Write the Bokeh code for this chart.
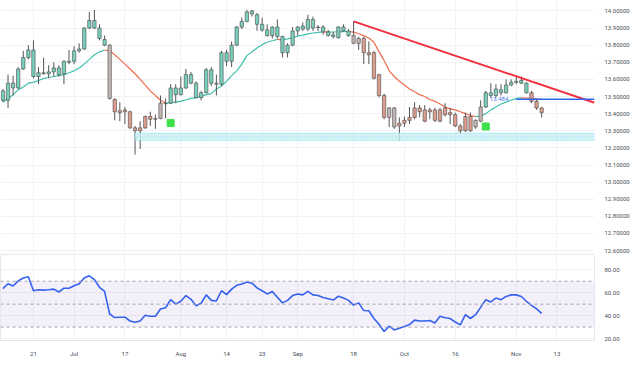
import pandas as pd
from bokeh.plotting import figure
from bokeh.layouts import column
from bokeh.models import (ColumnDataSource, Range1d, FixedTicker, Grid, Span,
                          BoxAnnotation, PrintfTickFormatter)
from bokeh.embed import file_html
from bokeh.resources import INLINE
from bokeh.core.properties import value

# ---------------- data ----------------
start_date = "2023-06-13"

opens = [13.478, 13.478, 13.578, 13.550, 13.661, 13.728, 13.772, 13.617, 13.639, 13.633,
         13.644, 13.667, 13.633, 13.706, 13.706, 13.767, 13.778, 13.900, 13.944, 13.900,
         13.833, 13.800, 13.483, 13.417, 13.411, 13.411, 13.317, 13.300, 13.317, 13.383,
         13.367, 13.372, 13.461, 13.461, 13.550, 13.511, 13.550, 13.628, 13.578, 13.494,
         13.522, 13.656, 13.578, 13.572, 13.756, 13.706, 13.800, 13.906, 13.939, 14.000,
         13.978, 13.922, 13.889, 13.856, 13.906, 13.850, 13.756, 13.800, 13.883, 13.894,
         13.894, 13.950, 13.903, 13.906, 13.878, 13.850, 13.844, 13.906, 13.883, 13.856,
         13.811, 13.839, 13.756, 13.756, 13.628, 13.506, 13.378, 13.433, 13.328, 13.344,
         13.361, 13.378, 13.433, 13.422, 13.411, 13.422, 13.356, 13.433, 13.394, 13.394,
         13.328, 13.300, 13.383, 13.322, 13.356, 13.439, 13.522, 13.506, 13.539, 13.522,
         13.567, 13.583, 13.578, 13.578, 13.522, 13.472, 13.433]
closes = [13.533, 13.578, 13.550, 13.661, 13.728, 13.772, 13.617, 13.639, 13.633, 13.644,
          13.667, 13.628, 13.706, 13.700, 13.767, 13.778, 13.900, 13.944, 13.900, 13.839,
          13.800, 13.489, 13.411, 13.406, 13.422, 13.317, 13.300, 13.317, 13.383, 13.367,
          13.372, 13.461, 13.458, 13.550, 13.511, 13.550, 13.628, 13.578, 13.494, 13.522,
          13.656, 13.578, 13.572, 13.756, 13.706, 13.800, 13.906, 13.939, 13.994, 13.983,
          13.922, 13.889, 13.856, 13.906, 13.850, 13.756, 13.800, 13.883, 13.906, 13.911,
          13.950, 13.900, 13.906, 13.878, 13.856, 13.861, 13.906, 13.883, 13.856, 13.811,
          13.839, 13.756, 13.744, 13.606, 13.506, 13.378, 13.433, 13.322, 13.344, 13.361,
          13.378, 13.433, 13.411, 13.356, 13.422, 13.361, 13.422, 13.394, 13.406, 13.328,
          13.300, 13.383, 13.300, 13.361, 13.439, 13.522, 13.506, 13.544, 13.522, 13.567,
          13.583, 13.589, 13.594, 13.522, 13.472, 13.433, 13.406]
highs = [13.544, 13.628, 13.622, 13.672, 13.767, 13.800, 13.828, 13.672, 13.728, 13.683,
         13.700, 13.683, 13.711, 13.772, 13.794, 13.811, 13.906, 13.994, 14.006, 13.922,
         13.856, 13.806, 13.489, 13.467, 13.439, 13.417, 13.328, 13.356, 13.389, 13.411,
         13.394, 13.506, 13.489, 13.572, 13.572, 13.617, 13.661, 13.644, 13.589, 13.533,
         13.667, 13.672, 13.628, 13.767, 13.772, 13.822, 13.911, 13.961, 14.006, 14.006,
         13.989, 13.961, 13.922, 13.911, 13.950, 13.856, 13.811, 13.906, 13.911, 13.933,
         13.978, 13.967, 13.917, 13.917, 13.889, 13.878, 13.911, 13.922, 13.894, 13.939,
         13.850, 13.850, 13.822, 13.767, 13.633, 13.517, 13.439, 13.439, 13.378, 13.383,
         13.439, 13.467, 13.450, 13.450, 13.433, 13.433, 13.433, 13.461, 13.433, 13.406,
         13.339, 13.406, 13.406, 13.367, 13.478, 13.533, 13.578, 13.572, 13.572, 13.600,
         13.600, 13.622, 13.617, 13.583, 13.533, 13.483, 13.439]
lows = [13.467, 13.433, 13.506, 13.544, 13.656, 13.717, 13.606, 13.572, 13.628, 13.606,
        13.617, 13.617, 13.572, 13.689, 13.689, 13.756, 13.772, 13.894, 13.894, 13.828,
        13.794, 13.483, 13.361, 13.356, 13.339, 13.311, 13.161, 13.194, 13.311, 13.328,
        13.311, 13.367, 13.372, 13.456, 13.461, 13.506, 13.544, 13.572, 13.489, 13.478,
        13.517, 13.561, 13.506, 13.561, 13.678, 13.672, 13.794, 13.894, 13.933, 13.967,
        13.883, 13.878, 13.850, 13.839, 13.839, 13.728, 13.728, 13.794, 13.856, 13.883,
        13.883, 13.883, 13.883, 13.861, 13.850, 13.839, 13.839, 13.878, 13.850, 13.806,
        13.772, 13.689, 13.689, 13.600, 13.494, 13.367, 13.322, 13.311, 13.244, 13.322,
        13.339, 13.367, 13.378, 13.350, 13.367, 13.350, 13.350, 13.383, 13.339, 13.322,
        13.283, 13.294, 13.294, 13.311, 13.350, 13.433, 13.494, 13.494, 13.506, 13.517,
        13.561, 13.572, 13.572, 13.517, 13.461, 13.422, 13.378]
# trend state of each candle: T = up (teal), S = down (salmon), N = neutral (grey)
trend_state = list("TTTTTTTTTTTTTTTTTTTTT" "N" "SSSSSSSSS" "NN"
                   "TTTTTTTTTTTTTTTTTTTTTTTTTTTTTTTTTTTT" "NN" "SSSSS" "NN"
                   "SSSSSSSSSSSSSSS" "NN" "TTTTTTTTT" "SSS")

ma_values = [13.468, 13.489, 13.511, 13.539, 13.556, 13.578, 13.583, 13.594, 13.606, 13.611,
             13.617, 13.622, 13.628, 13.639, 13.650, 13.667, 13.689, 13.717, 13.744, 13.761,
             13.772, 13.767, 13.744, 13.717, 13.689, 13.661, 13.633, 13.600, 13.567, 13.533,
             13.506, 13.478, 13.461, 13.464, 13.467, 13.472, 13.481, 13.489, 13.494, 13.500,
             13.511, 13.517, 13.544, 13.561, 13.589, 13.622, 13.650, 13.689, 13.739, 13.761,
             13.783, 13.803, 13.817, 13.826, 13.834, 13.831, 13.837, 13.844, 13.853, 13.859,
             13.866, 13.871, 13.875, 13.878, 13.876, 13.877, 13.878, 13.879, 13.880, 13.876,
             13.867, 13.856, 13.842, 13.817, 13.761, 13.711, 13.650, 13.617, 13.589, 13.567,
             13.544, 13.528, 13.511, 13.500, 13.483, 13.472, 13.456, 13.439, 13.428, 13.422,
             13.411, 13.400, 13.389, 13.383, 13.386, 13.400, 13.422, 13.439, 13.456, 13.467,
             13.478, 13.489, 13.492, 13.491, 13.489, 13.486, 13.483]

rsi_values = [63.6, 67.8, 65.8, 70.3, 72.8, 73.9, 61.7, 62.5, 62.2, 62.5,
              63.1, 60.6, 63.9, 63.9, 66.1, 67.8, 72.8, 74.7, 71.4, 64.7,
              61.1, 41.4, 38.3, 38.6, 38.6, 35.3, 34.2, 35.3, 40.3, 39.4,
              39.4, 45.8, 46.9, 53.9, 50.0, 52.5, 57.5, 54.2, 48.6, 50.8,
              58.1, 53.3, 52.8, 61.7, 58.3, 63.1, 66.4, 67.5, 69.4, 68.3,
              64.2, 61.7, 58.9, 61.1, 56.1, 51.1, 53.3, 57.5, 58.9, 58.1,
              61.1, 58.1, 57.5, 55.8, 54.7, 53.6, 56.9, 55.3, 53.3, 49.2,
              51.1, 44.4, 44.2, 37.5, 32.5, 26.1, 30.8, 27.5, 28.9, 30.6,
              32.2, 36.1, 35.3, 35.3, 35.8, 33.6, 39.4, 38.1, 37.5, 34.4,
              31.9, 40.8, 37.5, 40.8, 47.2, 53.9, 51.9, 55.3, 53.9, 56.7,
              58.1, 58.1, 56.7, 52.5, 48.9, 45.8, 41.9]

date_tick_dates = ["2023-06-21", "2023-07-03", "2023-07-17", "2023-08-01", "2023-08-14",
                   "2023-08-23", "2023-09-01", "2023-09-18", "2023-10-02", "2023-10-16",
                   "2023-11-01", "2023-11-13"]
date_tick_labels = ["21", "Jul", "17", "Aug", "14", "23", "Sep", "18", "Oct", "16", "Nov", "13"]
price_ticks = [12.6, 12.7, 12.8, 12.9, 13.0, 13.1, 13.2, 13.3, 13.4, 13.5, 13.6, 13.7, 13.8, 13.9, 14.0]
rsi_ticks = [20, 40, 60, 80]
rsi_levels = [70, 50, 30]

zone_start = "2023-07-19"
zone_low, zone_mid, zone_high = 13.243, 13.265, 13.287
trend_dates = ["2023-09-18", "2023-11-01"]
trend_prices = [13.939, 13.618]
level_date = "2023-11-01"
level_price = 13.484
level_label = "13.484"
signal_dates = ["2023-07-28", "2023-10-24"]
signal_prices = [13.345, 13.325]

# ---------------- build ----------------
all_days = pd.bdate_range(start_date, periods=150)
def idx(d):
    return int(all_days.get_indexer(pd.to_datetime([d]))[0])

n = len(closes)
xs = list(range(n))
state_colors = {"T": "#78cfbc", "S": "#de9d8c", "N": "#c4b6b4"}
src = ColumnDataSource(dict(
    x=xs, open=opens, close=closes, high=highs, low=lows,
    top=[max(o, c) for o, c in zip(opens, closes)],
    bottom=[min(o, c) for o, c in zip(opens, closes)],
    color=[state_colors[s] for s in trend_state]))

xr = Range1d(-0.48, 116.4)
FONT = "Roboto"
AX_COLOR = "#4a4d57"
GRID = "#f0f2f6"

main = figure(frame_width=594, frame_height=253, x_range=xr,
              y_range=Range1d(12.583, 14.061), y_axis_location="right",
              x_axis_location=None, output_backend="svg", toolbar_location=None,
              min_border_left=0, min_border_right=30, min_border_top=0,
              min_border_bottom=0, outline_line_color=None)
rsi = figure(frame_width=594, frame_height=86, x_range=xr,
             y_range=Range1d(18.3, 93.3), y_axis_location="right",
             output_backend="svg", toolbar_location=None,
             min_border_left=0, min_border_right=30, min_border_top=1,
             min_border_bottom=0, outline_line_color="#e6e8ee")

tick_idx = [idx(d) for d in date_tick_dates]

for f, yt in ((main, price_ticks), (rsi, rsi_ticks)):
    f.xgrid.visible = False
    f.ygrid.visible = False
    f.add_layout(Grid(dimension=0, ticker=FixedTicker(ticks=tick_idx),
                      grid_line_color=GRID, grid_line_width=1))
    f.add_layout(Grid(dimension=1, ticker=FixedTicker(ticks=yt),
                      grid_line_color=GRID, grid_line_width=1))
    f.yaxis.ticker = FixedTicker(ticks=yt)
    for ax in f.yaxis:
        ax.axis_line_color = None
        ax.major_tick_line_color = None
        ax.minor_tick_line_color = None
        ax.major_label_text_font = FONT
        ax.major_label_text_font_size = "6px"
        ax.major_label_text_color = AX_COLOR
        ax.major_label_standoff = 4

main.yaxis.formatter = PrintfTickFormatter(format="%.5f")
rsi.yaxis.formatter = PrintfTickFormatter(format="%.2f")

rsi.xaxis.ticker = FixedTicker(ticks=tick_idx)
rsi.xaxis.major_label_overrides = {i: lab for i, lab in zip(tick_idx, date_tick_labels)}
rsi.xaxis.axis_line_color = None
rsi.xaxis.major_tick_line_color = None
rsi.xaxis.minor_tick_line_color = None
rsi.xaxis.major_label_text_font = FONT
rsi.xaxis.major_label_text_font_size = "6px"
rsi.xaxis.major_label_text_color = AX_COLOR
rsi.xaxis.major_label_standoff = 3

# support zone
zs = idx(zone_start)
main.add_layout(BoxAnnotation(left=zs, bottom=zone_low, top=zone_high,
                              fill_color="#c8eff4", fill_alpha=0.8,
                              line_color="#52cfe0", line_width=1))
main.line(x=[zs, xr.end], y=[zone_mid, zone_mid], line_color="#52c6d8",
          line_width=0.8, line_dash="3 2")

# moving average, coloured by slope
ma_src = ColumnDataSource(dict(
    x0=xs[:-1], x1=xs[1:], y0=ma_values[:-1], y1=ma_values[1:],
    color=["#3dbfaa" if b >= a else "#ee6a4a" for a, b in zip(ma_values[:-1], ma_values[1:])]))
main.segment(x0="x0", y0="y0", x1="x1", y1="y1", color="color", line_width=1.2, source=ma_src)

# candles
main.segment(x0="x", y0="high", x1="x", y1="low", line_color="#555555", line_width=1, source=src)
main.vbar(x="x", top="top", bottom="bottom", width=0.66, fill_color="color",
          line_color="#4a4a4a", line_width=0.6, source=src)

# trend line (extended to the right edge)
t0, t1 = idx(trend_dates[0]), idx(trend_dates[1])
slope = (trend_prices[1] - trend_prices[0]) / (t1 - t0)
main.line(x=[t0, xr.end], y=[trend_prices[0], trend_prices[0] + slope * (xr.end - t0)],
          line_color="#f0303e", line_width=2)

# level line
lv = idx(level_date)
main.line(x=[lv, xr.end], y=[level_price, level_price], line_color="#2f66f0", line_width=1.3)
main.text(x=[lv - 5.2], y=[level_price], text=[level_label], text_font=value(FONT),
          text_font_size="6px", text_color="#4a78f0", text_baseline="middle")

# signals
main.scatter(x=[idx(d) for d in signal_dates], y=signal_prices, marker="square",
             size=7, fill_color="#3ee04a", line_color="#3ee04a")

# RSI panel
rsi.add_layout(BoxAnnotation(bottom=rsi_levels[-1], top=rsi_levels[0],
                             fill_color="#7e57c2", fill_alpha=0.09, line_color=None))
for lvl in rsi_levels:
    rsi.add_layout(Span(location=lvl, dimension="width", line_color="#a3a3a8",
                        line_width=1, line_dash="3 3"))
rsi.line(x=xs, y=rsi_values, line_color="#2f62f5", line_width=1.6)

layout = column(main, rsi, spacing=0)
open("out.html", "w").write(file_html(layout, INLINE))
